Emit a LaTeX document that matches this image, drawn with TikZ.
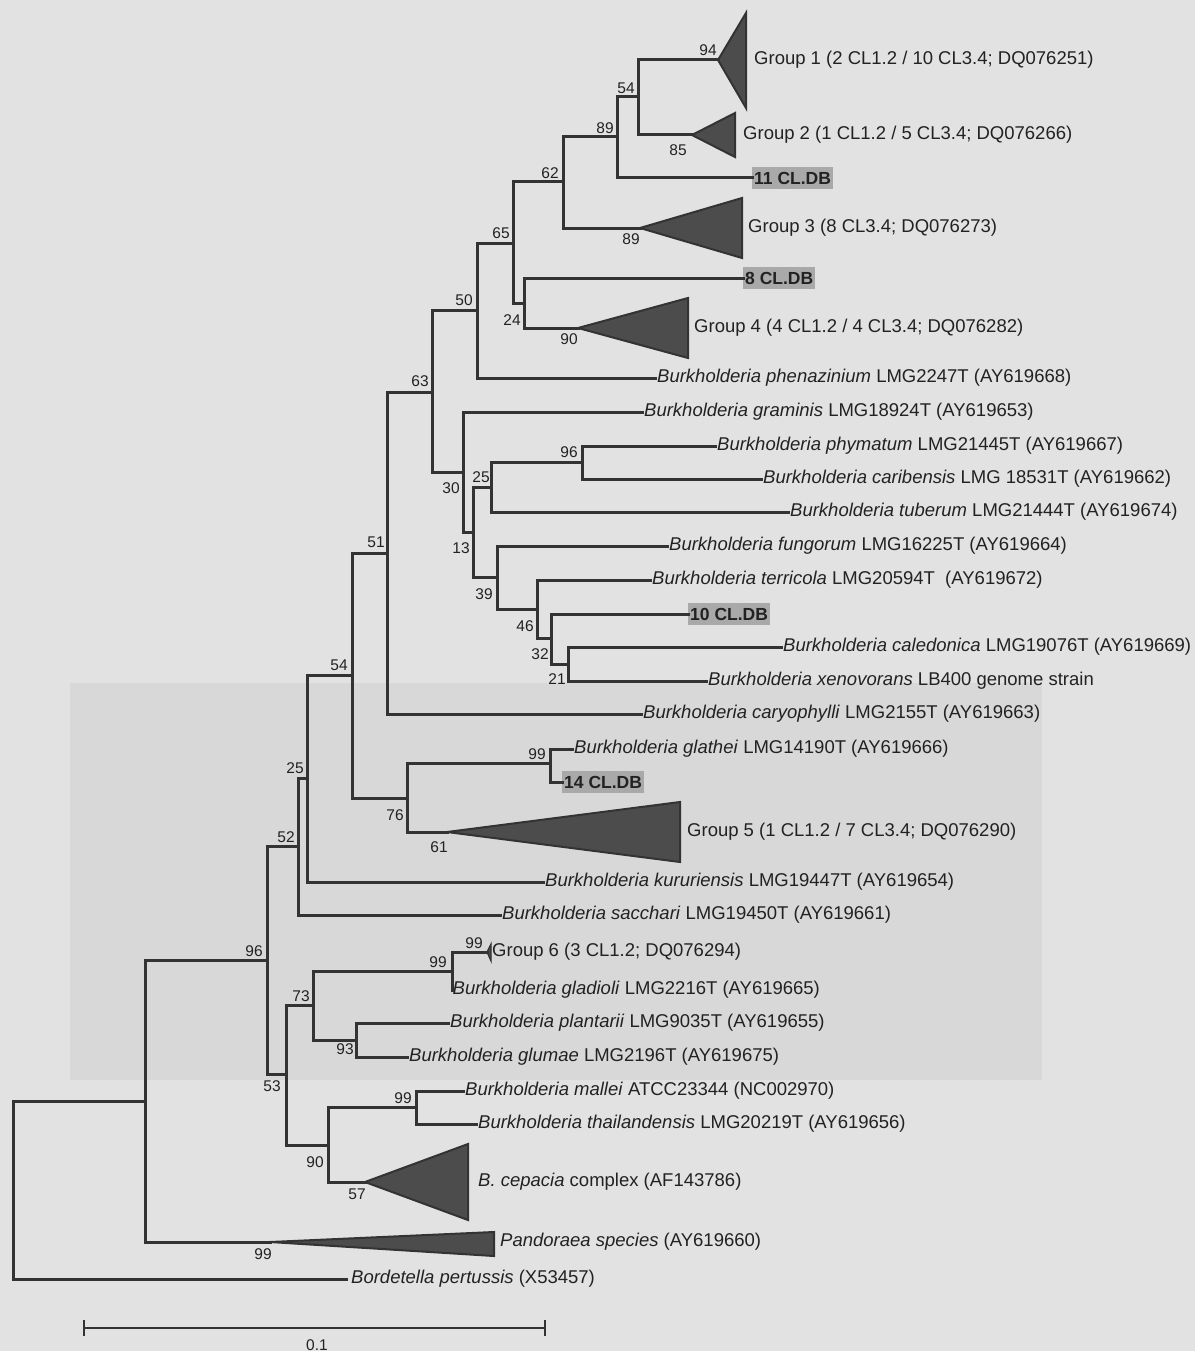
\documentclass[tikz,border=0pt]{standalone}
\usepackage{fontspec}
\setmainfont{Liberation Sans}
\definecolor{paper}{HTML}{E2E2E2}
\definecolor{bleed}{HTML}{D8D8D8}
\definecolor{linec}{HTML}{333333}
\definecolor{cladefill}{HTML}{4C4C4C}
\definecolor{hl}{HTML}{A9A9A9}
\definecolor{txt}{HTML}{222222}
\begin{document}
\begin{tikzpicture}[x=1pt,y=-1pt,
  branch/.style={draw=linec,line width=3pt,line cap=rect},
  clade/.style={draw=linec,fill=cladefill,line width=2pt,line join=miter},
  leaf/.style={anchor=west,inner xsep=2pt,inner ysep=0pt,text=txt,
    text height=13.5pt,text depth=4pt,font=\fontsize{18.5}{20}\selectfont},
  grp/.style={leaf,inner xsep=0pt},
  isolate/.style={anchor=west,inner xsep=2pt,inner ysep=4.5pt,fill=hl,text=txt,
    text height=12.5pt,text depth=0pt,font=\fontsize{17.5}{19}\selectfont\bfseries},
  bs/.style={inner sep=0pt,text=txt,font=\fontsize{15.5}{17}\selectfont},
]
% page
\fill[paper] (0,0) rectangle (1195,1351);
\fill[bleed] (70,683) rectangle (1042,1080);
\useasboundingbox (0,0) rectangle (1195,1351);

% ---------- internal nodes ----------
\coordinate (root) at (13,1190);
\coordinate (n99e) at (145,1101);
\coordinate (n96b) at (267,960);
\coordinate (n52)  at (298,846);
\coordinate (n25b) at (307,778);
\coordinate (n54b) at (352,675);
\coordinate (n51)  at (387,553);
\coordinate (n63)  at (432,392);
\coordinate (n50)  at (477,310);
\coordinate (n65)  at (513,243);
\coordinate (n62)  at (563,182);
\coordinate (n89a) at (617,137);
\coordinate (n54a) at (638,97);
\coordinate (n24)  at (524,303);
\coordinate (n30)  at (463,472);
\coordinate (n13)  at (473,532);
\coordinate (n25a) at (491,487);
\coordinate (n96a) at (582,462);
\coordinate (n39)  at (497,577);
\coordinate (n46)  at (537,609);
\coordinate (n32)  at (551,638);
\coordinate (n21)  at (568,664);
\coordinate (n76)  at (407,798);
\coordinate (n99a) at (550,763);
\coordinate (n53)  at (286,1074);
\coordinate (n73)  at (313,1005);
\coordinate (n99c) at (452,971);
\coordinate (n93)  at (356,1040);
\coordinate (n90)  at (328,1145);
\coordinate (n99d) at (416,1107);

% ---------- collapsed clades (apex coordinates) ----------
\coordinate (g1) at (718,60);
\coordinate (g2) at (692,135);
\coordinate (g3) at (640,228);
\coordinate (g4) at (578,328);
\coordinate (g5) at (447,832);
\coordinate (g6) at (487,952);
\coordinate (cep) at (365,1182);
\coordinate (pan) at (270,1242);

\draw[clade] (g1) -- (746,13) -- (746,108) -- cycle;
\draw[clade] (g2) -- (735,113) -- (735,157) -- cycle;
\draw[clade] (g3) -- (742,198) -- (742,258) -- cycle;
\draw[clade] (g4) -- (688,298) -- (688,358) -- cycle;
\draw[clade] (g5) -- (680,802) -- (680,862) -- cycle;
\draw[clade,line width=1.2pt] (g6) -- (491,944) -- (491,961) -- cycle;
\draw[clade] (cep) -- (468,1144) -- (468,1220) -- cycle;
\draw[clade] (pan) -- (494,1232) -- (494,1256) -- cycle;

\node[grp] (t1) at (754,60)  {Group 1 (2 CL1.2 / 10 CL3.4; DQ076251)};
\node[grp] (t2) at (743,135) {Group 2 (1 CL1.2 / 5 CL3.4; DQ076266)};
\node[grp] (t3) at (748,228) {Group 3 (8 CL3.4; DQ076273)};
\node[grp] (t4) at (694,328) {Group 4 (4 CL1.2 / 4 CL3.4; DQ076282)};
\node[grp] (t5) at (687,832) {Group 5 (1 CL1.2 / 7 CL3.4; DQ076290)};
\node[grp] (t6) at (492,952) {Group 6 (3 CL1.2; DQ076294)};
\node[grp] (tc) at (478,1182) {\textit{B. cepacia} complex (AF143786)};
\node[grp] (tp) at (500,1242) {\textit{Pandoraea species} (AY619660)};

% ---------- leaves ----------
\node[isolate] (cl11) at (752,178) {11 CL.DB};
\node[isolate] (cl8)  at (743,278) {8 CL.DB};
\node[isolate] (cl10) at (688,614) {10 CL.DB};
\node[isolate] (cl14) at (562,782) {14 CL.DB};
\node[leaf] (phen) at (655,378) {\textit{Burkholderia phenazinium} LMG2247T (AY619668)};
\node[leaf] (gram) at (642,412) {\textit{Burkholderia graminis} LMG18924T (AY619653)};
\node[leaf] (phy)  at (715,446) {\textit{Burkholderia phymatum} LMG21445T (AY619667)};
\node[leaf] (car)  at (761,479) {\textit{Burkholderia caribensis} LMG 18531T (AY619662)};
\node[leaf] (tub)  at (788,512) {\textit{Burkholderia tuberum} LMG21444T (AY619674)};
\node[leaf] (fung) at (667,546) {\textit{Burkholderia fungorum} LMG16225T (AY619664)};
\node[leaf] (terr) at (650,580) {\textit{Burkholderia terricola} LMG20594T\ \ (AY619672)};
\node[leaf] (cal)  at (781,647) {\textit{Burkholderia caledonica} LMG19076T (AY619669)};
\node[leaf] (xen)  at (706,681) {\textit{Burkholderia xenovorans} LB400 genome strain};
\node[leaf] (cary) at (641,714) {\textit{Burkholderia caryophylli} LMG2155T (AY619663)};
\node[leaf] (glat) at (572,749) {\textit{Burkholderia glathei} LMG14190T (AY619666)};
\node[leaf] (kur)  at (543,882) {\textit{Burkholderia kururiensis} LMG19447T (AY619654)};
\node[leaf] (sac)  at (500,915) {\textit{Burkholderia sacchari} LMG19450T (AY619661)};
\node[leaf,inner xsep=0.5pt] (glad) at (452,990) {\textit{Burkholderia gladioli} LMG2216T (AY619665)};
\node[leaf] (plan) at (448,1023) {\textit{Burkholderia plantarii} LMG9035T (AY619655)};
\node[leaf] (glum) at (407,1057) {\textit{Burkholderia glumae} LMG2196T (AY619675)};
\node[leaf] (mal)  at (463,1091) {\textit{Burkholderia mallei} ATCC23344 (NC002970)};
\node[leaf] (thai) at (476,1124) {\textit{Burkholderia thailandensis} LMG20219T (AY619656)};
\node[leaf,inner xsep=5pt] (bord) at (346,1279) {\textit{Bordetella pertussis} (X53457)};

% ---------- branches ----------
\begin{scope}[branch]
\draw (root) |- (n99e);  \draw (root) |- (bord.west);
\draw (n99e) |- (n96b);  \draw (n99e) |- (pan);
\draw (n96b) |- (n52);   \draw (n96b) |- (n53);
\draw (n52) |- (n25b);   \draw (n52) |- (sac.west);
\draw (n25b) |- (n54b);  \draw (n25b) |- (kur.west);
\draw (n54b) |- (n51);   \draw (n54b) |- (n76);
\draw (n51) |- (n63);    \draw (n51) |- (cary.west);
\draw (n63) |- (n50);    \draw (n63) |- (n30);
\draw (n50) |- (n65);    \draw (n50) |- (phen.west);
\draw (n65) |- (n62);    \draw (n65) |- (n24);
\draw (n62) |- (n89a);   \draw (n62) |- (g3);
\draw (n89a) |- (n54a);  \draw (n89a) |- (cl11.west);
\draw (n54a) |- (g1);    \draw (n54a) |- (g2);
\draw (n24) |- (cl8.west); \draw (n24) |- (g4);
\draw (n30) |- (gram.west); \draw (n30) |- (n13);
\draw (n13) |- (n25a);   \draw (n13) |- (n39);
\draw (n25a) |- (n96a);  \draw (n25a) |- (tub.west);
\draw (n96a) |- (phy.west); \draw (n96a) |- (car.west);
\draw (n39) |- (fung.west); \draw (n39) |- (n46);
\draw (n46) |- (terr.west); \draw (n46) |- (n32);
\draw (n32) |- (cl10.west); \draw (n32) |- (n21);
\draw (n21) |- (cal.west);  \draw (n21) |- (xen.west);
\draw (n76) |- (n99a);   \draw (n76) |- (g5);
\draw (n99a) |- (glat.west); \draw (n99a) |- (cl14.west);
\draw (n53) |- (n73);    \draw (n53) |- (n90);
\draw (n73) |- (n99c);   \draw (n73) |- (n93);
\draw (n99c) |- (g6);    \draw (n99c) |- (glad.west);
\draw (n93) |- (plan.west); \draw (n93) |- (glum.west);
\draw (n90) |- (n99d);   \draw (n90) |- (cep);
\draw (n99d) |- (mal.west); \draw (n99d) |- (thai.west);
\end{scope}

% ---------- bootstrap values ----------
\node[bs] (b94)  at (708,50)  {94};
\node[bs] (b54a) at (626,88)  {54};
\node[bs] (b89a) at (605,128) {89};
\node[bs] (b85)  at (678,150) {85};
\node[bs] (b62)  at (550,173) {62};
\node[bs] (b89c) at (631,239) {89};
\node[bs] (b65)  at (501,233) {65};
\node[bs] (b50)  at (464,300) {50};
\node[bs] (b24)  at (512,320) {24};
\node[bs] (b90c) at (569,339) {90};
\node[bs] (b63)  at (420,381) {63};
\node[bs] (b30)  at (451,488) {30};
\node[bs] (b25a) at (481,477) {25};
\node[bs] (b96a) at (569,452) {96};
\node[bs] (b13)  at (461,548) {13};
\node[bs] (b39)  at (484,594) {39};
\node[bs] (b46)  at (525,626) {46};
\node[bs] (b32)  at (540,654) {32};
\node[bs] (b21)  at (557,679) {21};
\node[bs] (b51)  at (376,542) {51};
\node[bs] (b54b) at (339,665) {54};
\node[bs] (b25b) at (295,768) {25};
\node[bs] (b52)  at (286,837) {52};
\node[bs] (b76)  at (395,815) {76};
\node[bs] (b99a) at (537,754) {99};
\node[bs] (b61)  at (439,847) {61};
\node[bs] (b96b) at (254,951) {96};
\node[bs] (b99g) at (474,943) {99};
\node[bs] (b99c) at (438,962) {99};
\node[bs] (b73)  at (301,996) {73};
\node[bs] (b93)  at (345,1049) {93};
\node[bs] (b53)  at (272,1086) {53};
\node[bs] (b99d) at (403,1098) {99};
\node[bs] (b90)  at (315,1162) {90};
\node[bs] (b57)  at (357,1194) {57};
\node[bs] (b99e) at (263,1254) {99};

% ---------- scale bar ----------
\coordinate (sbl) at (84,1328);
\coordinate (sbr) at (545,1328);
\draw[linec,line width=2.4pt] (sbl) -- (sbr);
\draw[linec,line width=2.4pt] ([yshift=-8pt]sbl) -- ([yshift=8pt]sbl);
\draw[linec,line width=2.4pt] ([yshift=-8pt]sbr) -- ([yshift=8pt]sbr);
\node[bs] (sbt) at (317,1345) {0.1};
\end{tikzpicture}
\end{document}
